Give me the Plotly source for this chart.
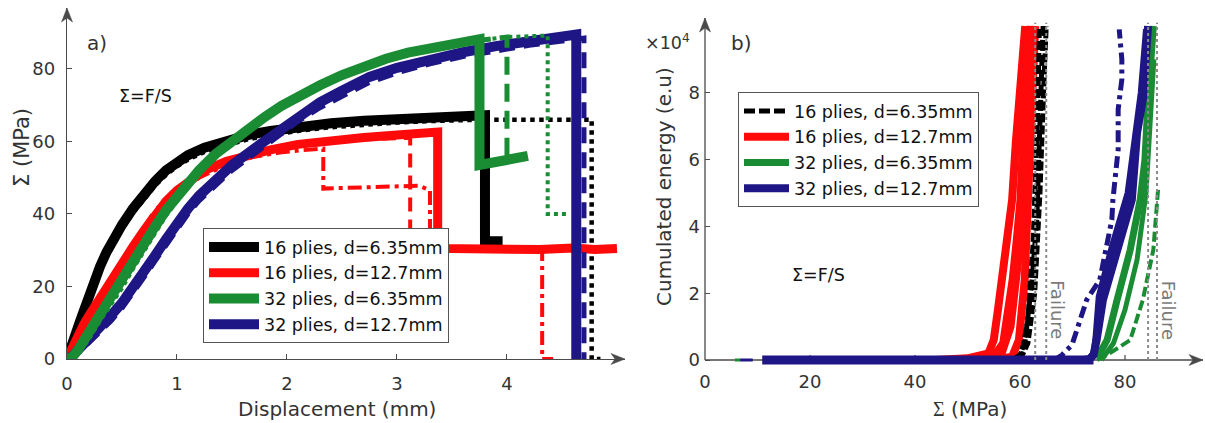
import plotly.graph_objects as go

# ---------------- panel a) : stress (MPa) vs displacement (mm) ----------------
A_BLK_SOLID_X = [0, 0.03, 0.07, 0.12, 0.18, 0.23, 0.3, 0.36, 0.43, 0.5, 0.6, 0.7, 0.8, 0.9, 1.0, 1.1, 1.25, 1.45, 1.65, 1.85, 2.1, 2.4, 2.7, 3.0, 3.3, 3.55, 3.8, 3.8, 3.96]
A_BLK_SOLID_Y = [0, 3, 6.5, 10.5, 15.5, 20, 25.5, 29.5, 33.5, 37, 41.5, 45.5, 49, 52, 54.3, 56.2, 58.3, 60.2, 61.8, 62.9, 64, 65, 65.7, 66.2, 66.6, 66.9, 67.2, 32.5, 32.5]
A_BLK_DOT_X = [0, 0.03, 0.07, 0.12, 0.18, 0.23, 0.3, 0.36, 0.43, 0.5, 0.6, 0.7, 0.8, 0.9, 1.0, 1.1, 1.25, 1.45, 1.65, 1.85, 2.1, 2.4, 2.7, 3.0, 3.3, 3.75, 4.3, 4.77, 4.77, 4.85]
A_BLK_DOT_Y = [0, 2.5, 6, 9.8, 14.5, 18.8, 24.3, 28.3, 32.3, 35.8, 40.3, 44.3, 47.8, 50.8, 53.1, 55, 57.1, 59, 60.6, 61.8, 62.9, 63.9, 64.7, 65.2, 65.6, 66, 66, 66, 0, 0]

A_RED_SOLID_X = [0, 0.05, 0.1, 0.15, 0.2, 0.3, 0.4, 0.5, 0.6, 0.7, 0.8, 0.9, 1.0, 1.1, 1.25, 1.45, 1.65, 1.85, 2.1, 2.4, 2.7, 3.0, 3.2, 3.37, 3.37, 3.7, 4.0, 4.3, 4.6, 4.8, 5.0]
A_RED_SOLID_Y = [0, 3.5, 6.5, 9.5, 12, 17, 22, 26.5, 31, 35.5, 40, 43.5, 46.5, 49, 52, 54.5, 56.3, 57.7, 59.2, 60.3, 61.1, 61.8, 62.2, 62.6, 30.5, 30.3, 30.7, 30.2, 30.6, 30.2, 30.5]
A_RED_DASHDOT_X = [0, 0.1, 0.2, 0.3, 0.45, 0.6, 0.8, 1.0, 1.2, 1.45, 1.7, 1.95, 2.15, 2.33, 2.33, 2.6, 2.9, 3.2, 3.3, 3.3, 4.32, 4.32, 4.42]
A_RED_DASHDOT_Y = [0, 6, 11.5, 16.5, 24, 31, 40, 45.5, 50, 53.5, 55.8, 57, 57.6, 58, 47, 47.2, 47.5, 47.8, 46.5, 30.5, 30.5, 0, 0]
A_RED_DASH_X = [0, 0.1, 0.2, 0.3, 0.45, 0.6, 0.8, 1.0, 1.2, 1.45, 1.7, 2.0, 2.3, 2.6, 2.9, 3.12, 3.12]
A_RED_DASH_Y = [0, 6.5, 12, 17.5, 25, 32, 41, 46.5, 50.8, 54.5, 57, 58.8, 59.9, 60.5, 60.9, 61, 30]

A_GRN_SOLID_X = [0, 0.05, 0.1, 0.15, 0.2, 0.3, 0.4, 0.5, 0.6, 0.7, 0.8, 0.9, 1.0, 1.1, 1.2, 1.35, 1.5, 1.65, 1.8, 1.95, 2.1, 2.3, 2.5, 2.7, 2.9, 3.1, 3.33, 3.55, 3.75, 3.75, 4.0, 4.19]
A_GRN_SOLID_Y = [0, 0.6, 2.5, 5, 7.5, 12.5, 17, 21.5, 26.5, 31.5, 36.5, 41, 45, 48.5, 52, 56.5, 60.2, 63.5, 66.8, 69.8, 72.5, 75.5, 78.3, 80.8, 82.8, 84.5, 86, 87.2, 88.2, 53.5, 55, 56]
A_GRN_DASH_X = [0, 0.05, 0.1, 0.15, 0.2, 0.3, 0.4, 0.5, 0.6, 0.7, 0.8, 0.9, 1.0, 1.1, 1.2, 1.35, 1.5, 1.65, 1.8, 1.95, 2.1, 2.3, 2.5, 2.7, 2.9, 3.1, 3.33, 3.55, 3.75, 4.0, 4.0]
A_GRN_DASH_Y = [0, 0.3, 1.8, 4, 6.5, 11.5, 16, 20.5, 25.5, 30.5, 35.5, 40, 44, 47.8, 51.5, 56, 59.8, 63.2, 66.5, 69.5, 72.2, 75.2, 78, 80.5, 82.6, 84.3, 85.9, 87.1, 88, 88.8, 56]
A_GRN_DOT_X = [0, 0.05, 0.1, 0.15, 0.2, 0.3, 0.4, 0.5, 0.6, 0.7, 0.8, 0.9, 1.0, 1.1, 1.2, 1.35, 1.5, 1.65, 1.8, 1.95, 2.1, 2.3, 2.5, 2.7, 2.9, 3.1, 3.33, 3.55, 3.75, 4.0, 4.37, 4.37, 4.55]
A_GRN_DOT_Y = [0, 0.2, 1.2, 3.2, 5.5, 10.5, 15, 19.5, 24.8, 29.8, 35, 39.5, 43.5, 47.4, 51.2, 55.6, 59.5, 63, 66.3, 69.3, 72, 75, 77.9, 80.4, 82.6, 84.4, 86, 87.2, 88, 88.8, 89.2, 40, 40]

A_NVY_SOLID_X = [0, 0.05, 0.1, 0.15, 0.2, 0.3, 0.4, 0.5, 0.6, 0.7, 0.8, 0.9, 1.0, 1.1, 1.2, 1.35, 1.5, 1.7, 1.9, 2.1, 2.3, 2.5, 2.75, 3.0, 3.3, 3.6, 3.9, 4.2, 4.45, 4.63, 4.63]
A_NVY_SOLID_Y = [0, 0.8, 2.5, 4, 5.5, 9, 12, 15.5, 19.5, 24, 28.5, 33, 37.5, 41.5, 45, 49.5, 53.5, 58, 62.5, 67, 70.8, 74, 77.8, 80.3, 82.7, 84.6, 86.3, 87.6, 88.6, 89.5, 0]
A_NVY_DASH_X = [0, 0.05, 0.1, 0.15, 0.2, 0.3, 0.4, 0.5, 0.6, 0.7, 0.8, 0.9, 1.0, 1.1, 1.2, 1.35, 1.5, 1.7, 1.9, 2.1, 2.3, 2.5, 2.75, 3.0, 3.3, 3.6, 3.9, 4.2, 4.45, 4.7, 4.7]
A_NVY_DASH_Y = [0, 0.5, 1.8, 3, 4.5, 7.5, 10.5, 14, 18, 22.5, 27, 31.5, 36, 40, 43.6, 48, 52, 56.5, 61, 65.5, 69.3, 72.5, 76.3, 78.9, 81.4, 83.4, 85.1, 86.5, 87.5, 88.5, 0]

A_XTICKS = [0, 1, 2, 3, 4]
A_YTICKS = [0, 20, 40, 60, 80]

# ---------------- panel b) : cumulated energy (x1e4 e.u) vs stress (MPa) ----------------
B_RED1_X = [44, 50, 54, 55, 55.8, 56.6, 57.6, 58.5, 59.2, 60.0, 61]
B_RED1_Y = [0, 0.05, 0.2, 0.6, 1.5, 2.4, 3.6, 4.8, 6.5, 8.2, 10.0]
B_RED2_X = [50, 55, 56.8, 57.8, 58.6, 59.4, 60.1, 60.7, 61.4, 62]
B_RED2_Y = [0, 0.1, 0.5, 1.5, 2.4, 3.6, 4.8, 7.0, 9.0, 10.0]
B_RED3_X = [55, 58.5, 59.8, 60.4, 60.9, 61.2, 61.5, 61.9, 62.4, 62.9]
B_RED3_Y = [0, 0.1, 0.6, 1.5, 2.4, 3.6, 4.8, 7.0, 8.8, 10.0]
B_RED4_X = [52, 56.5, 58.2, 59.0, 59.8, 60.5, 61.0, 61.6, 62.3]
B_RED4_Y = [0, 0.2, 1.0, 2.0, 3.2, 4.5, 6.5, 8.5, 10.0]

B_BLK1_X = [58.5, 60, 61, 62.3, 63.2, 63.8, 64.4]
B_BLK1_Y = [0, 0.15, 0.6, 2.4, 4.2, 7.8, 10.0]
B_BLK2_X = [59.5, 60.5, 61.5, 62.5, 63.3, 63.7]
B_BLK2_Y = [0, 0.3, 1.2, 3.5, 7.0, 10.0]
B_BLK3_X = [60, 61.5, 62.8, 63.8, 64.6, 65.0]
B_BLK3_Y = [0, 0.5, 2.0, 5.0, 8.5, 10.0]

B_GRN1_X = [74.7, 76.6, 78.5, 81, 82.9, 83.8, 84.4, 85.4]
B_GRN1_Y = [0.06, 0.6, 1.8, 3.3, 4.8, 6.0, 7.8, 10.0]
B_GRN2_X = [75.5, 77.8, 80, 82.3, 84, 84.8, 85.5]
B_GRN2_Y = [0, 0.5, 1.5, 3.0, 5.0, 7.0, 9.0]
B_GRND_X = [74.7, 76.6, 81, 83.4, 85.4, 86.1, 86.3]
B_GRND_Y = [0, 0.15, 0.6, 1.8, 3.3, 4.8, 5.1]

B_NVY1_X = [72, 73.2, 74, 74.6, 75.8, 78.5, 81.3, 82.3, 83.4, 84.4]
B_NVY1_Y = [0, 0.02, 0.15, 0.6, 1.8, 3.3, 4.8, 6.8, 7.8, 10.0]
B_NVY2_X = [70, 73, 74, 74.4, 75, 77.5, 80.5, 82, 83, 84]
B_NVY2_Y = [0, 0.02, 0.2, 0.7, 1.9, 3.4, 5.0, 7.0, 8.0, 9.9]
B_NVYD_X = [66.5, 68, 69.9, 72.7, 75.2, 77.5, 77.7, 78.7, 78.7, 79.4, 79.4, 78.9]
B_NVYD_Y = [0, 0.15, 0.45, 1.8, 2.4, 4.2, 4.8, 6.3, 7.5, 8.4, 9.0, 9.9]

B_BASE_NVY_X = [10.9, 74]
B_BASE_NVY_Y = [0, 0]
B_BASE_THIN_NVY_X = [6.7, 9.1]
B_BASE_THIN_NVY_Y = [0, 0]
B_BASE_GRN_X = [5.7, 6.7]
B_BASE_GRN_Y = [0, 0]

B_FAIL_X = [62.9, 65.0, 84.4, 86.1]
B_FAIL_LABEL_X = [67.0, 88.2]
B_FAIL_LABEL_Y = 1.5
B_XTICKS = [0, 20, 40, 60, 80]
B_YTICKS = [0, 2, 4, 6, 8]

LABELS = ["16 plies, d=6.35mm", "16 plies, d=12.7mm", "32 plies, d=6.35mm", "32 plies, d=12.7mm"]

# ---------------- style / layout constants ----------------
W, H = 1205, 423
BLACK, RED, GREEN, NAVY = "#000000", "#ff0a0a", "#1a8c33", "#1e1684"
AXC = "#4a4a4a"
TXT = "#333333"
FONT = "DejaVu Sans"

# pixel geometry of the two panels
A_X0, A_X1, A_Y0, A_Y1 = 67, 625, 359, 8
B_X0, B_X1, B_Y0, B_Y1 = 705, 1203, 360, 18
A_XR = [0, 5.073]
A_YR = [0, 96.8]
B_XR = [0, 94.86]
B_YMAX = 10.24
B_YMIN = -0.17
B_PXU = (B_Y0 - B_Y1) / B_YMAX  # px per unit
B_YBOT = B_Y0 - B_YMIN * B_PXU


def px(x):
    return x / W


def py(y):
    return 1 - y / H


fig = go.Figure()


def add(x, y, color, width, dash="solid", xa="x", ya="y", name=None, legend="legend", rank=None):
    fig.add_trace(go.Scatter(
        x=x, y=y, mode="lines", xaxis=xa, yaxis=ya,
        line=dict(color=color, width=width, dash=dash),
        name=name if name else "", showlegend=name is not None,
        legend=legend, legendrank=rank if rank else 1000, hoverinfo="skip"))


# panel a) traces (draw order: black, red, navy, green)
add(A_BLK_DOT_X, A_BLK_DOT_Y, BLACK, 4.5, "dot")
add(A_BLK_SOLID_X, A_BLK_SOLID_Y, BLACK, 10, name=LABELS[0], rank=1)
add(A_RED_DASHDOT_X, A_RED_DASHDOT_Y, RED, 4, "14px,5px,4px,5px")
add(A_RED_DASH_X, A_RED_DASH_Y, RED, 4, "14px,8px")
add(A_RED_SOLID_X, A_RED_SOLID_Y, RED, 9, name=LABELS[1], rank=2)
add(A_NVY_DASH_X, A_NVY_DASH_Y, NAVY, 5, "16px,9px")
add(A_NVY_SOLID_X, A_NVY_SOLID_Y, NAVY, 10, name=LABELS[3], rank=4)
add(A_GRN_DOT_X, A_GRN_DOT_Y, GREEN, 4, "dot")
add(A_GRN_DASH_X, A_GRN_DASH_Y, GREEN, 5, "18px,9px")
add(A_GRN_SOLID_X, A_GRN_SOLID_Y, GREEN, 10, name=LABELS[2], rank=3)

# panel b) traces
for xs, ys in [(B_RED1_X, B_RED1_Y), (B_RED2_X, B_RED2_Y), (B_RED4_X, B_RED4_Y)]:
    add(xs, ys, RED, 8, xa="x2", ya="y2")
add(B_RED3_X, B_RED3_Y, RED, 8, xa="x2", ya="y2", name=LABELS[1], legend="legend2", rank=2)
add(B_BLK2_X, B_BLK2_Y, BLACK, 5, "9px,3px", xa="x2", ya="y2")
add(B_BLK3_X, B_BLK3_Y, BLACK, 5, "9px,3px", xa="x2", ya="y2")
add(B_BLK1_X, B_BLK1_Y, BLACK, 5, "11px,4px", xa="x2", ya="y2", name=LABELS[0], legend="legend2", rank=1)
add(B_GRND_X, B_GRND_Y, GREEN, 4, "10px,4px", xa="x2", ya="y2")
add(B_GRN2_X, B_GRN2_Y, GREEN, 5, xa="x2", ya="y2")
add(B_GRN1_X, B_GRN1_Y, GREEN, 7, xa="x2", ya="y2", name=LABELS[2], legend="legend2", rank=3)
add(B_NVYD_X, B_NVYD_Y, NAVY, 5, "12px,5px,4px,5px", xa="x2", ya="y2")
add(B_NVY2_X, B_NVY2_Y, NAVY, 6, xa="x2", ya="y2")
add(B_BASE_GRN_X, B_BASE_GRN_Y, GREEN, 3, xa="x2", ya="y2")
add(B_BASE_THIN_NVY_X, B_BASE_THIN_NVY_Y, NAVY, 3, xa="x2", ya="y2")
add(B_BASE_NVY_X, B_BASE_NVY_Y, NAVY, 9, xa="x2", ya="y2")
add(B_NVY1_X, B_NVY1_Y, NAVY, 8, xa="x2", ya="y2", name=LABELS[3], legend="legend2", rank=4)

TICK_SIZE = 18
tickfont = dict(family=FONT, size=TICK_SIZE, color=TXT)
common = dict(showgrid=False, zeroline=False, ticks="inside", ticklen=5, tickwidth=1.2,
              tickcolor=AXC, tickfont=tickfont, automargin=False)

shapes = []
# gray dotted "failure" lines
for xv in B_FAIL_X:
    shapes.append(dict(type="line", xref="x2", yref="y2", x0=xv, x1=xv, y0=0, y1=10.1,
                       line=dict(color="#8a8a8a", width=2, dash="3px,3px"), layer="above"))
# panel b) axis lines and x ticks
shapes.append(dict(type="line", xref="paper", yref="paper", x0=px(B_X0), x1=px(B_X1),
                   y0=py(B_Y0), y1=py(B_Y0), line=dict(color=AXC, width=1.3), layer="below"))
shapes.append(dict(type="line", xref="paper", yref="paper", x0=px(B_X0), x1=px(B_X0),
                   y0=py(B_Y0), y1=py(B_Y1), line=dict(color=AXC, width=1.3), layer="below"))
for xv in B_XTICKS[1:]:
    shapes.append(dict(type="line", xref="x2", yref="y2", x0=xv, x1=xv, y0=0, y1=5 / B_PXU,
                       line=dict(color=AXC, width=1.2), layer="below"))


# arrow heads at the axis ends (filled, slightly notched triangles)
def head(tx, ty, direction):
    L, Wd, N = 14, 5.5, 4
    if direction == "right":
        pts = [(tx, ty), (tx - L, ty - Wd), (tx - L + N, ty), (tx - L, ty + Wd)]
    else:
        pts = [(tx, ty), (tx - Wd, ty + L), (tx, ty + L - N), (tx + Wd, ty + L)]
    path = "M " + " L ".join(f"{px(a):.5f},{py(b):.5f}" for a, b in pts) + " Z"
    shapes.append(dict(type="path", xref="paper", yref="paper", path=path,
                       fillcolor=AXC, line=dict(color=AXC, width=0.5), layer="above"))


head(A_X1, A_Y0, "right")
head(A_X0, A_Y1, "up")
head(B_X1, B_Y0, "right")
head(B_X0, B_Y1, "up")

annotations = []


def text(xp, yp, s, size=17, angle=0, color=TXT):
    annotations.append(dict(x=px(xp), y=py(yp), xref="paper", yref="paper", text=s,
                            showarrow=False, textangle=angle,
                            font=dict(family=FONT, size=size, color=color),
                            xanchor="center", yanchor="middle"))


text(97, 43, "a)", 20)
text(741, 43, "b)", 20)
text(145, 96, "Σ=F/S", 17.5, color="#111")
text(818, 275, "Σ=F/S", 17.5, color="#111")
text(667, 42, "×10<sup>4</sup>", 17.5)
text(337, 409, "Displacement (mm)", 20)
text(22, 148, "Σ (MPa)", 21, angle=-90)
text(664, 187, "Cumulated energy (e.u)", 20, angle=-90)
text(970, 409, "<span style='font-family:Liberation Serif'>Σ</span> (MPa)", 20)
for xv in B_FAIL_LABEL_X:
    annotations.append(dict(x=xv, y=B_FAIL_LABEL_Y, xref="x2", yref="y2", text="Failure",
                            showarrow=False, textangle=90,
                            font=dict(family=FONT, size=18, color="#7a7a7a")))

legfont = dict(family=FONT, size=17.5, color="#111")
fig.update_layout(
    template="none",
    width=W, height=H, margin=dict(l=0, r=0, t=0, b=0, pad=0, autoexpand=False),
    paper_bgcolor="white", plot_bgcolor="white",
    xaxis=dict(domain=[px(A_X0), px(A_X1)], range=A_XR, tickvals=A_XTICKS,
               showline=True, linecolor=AXC, linewidth=1.3, ticklabelstandoff=8,
               anchor="y", **common),
    yaxis=dict(domain=[py(A_Y0), py(A_Y1)], range=A_YR, tickvals=A_YTICKS,
               showline=True, linecolor=AXC, linewidth=1.3, ticklabelstandoff=7,
               anchor="x", **common),
    xaxis2=dict(domain=[px(B_X0), px(B_X1)], range=B_XR, tickvals=B_XTICKS,
                showline=False, ticks="", showgrid=False, zeroline=False, tickfont=tickfont,
                ticklabelstandoff=3, anchor="y2", automargin=False),
    yaxis2=dict(domain=[py(B_YBOT), py(B_Y1)], range=[B_YMIN, B_YMAX], tickvals=B_YTICKS,
                showline=False, ticklabelstandoff=4, anchor="x2", **common),
    legend=dict(x=px(203), y=py(228), xanchor="left", yanchor="top", font=legfont,
                bgcolor="white", bordercolor="#555", borderwidth=1, itemwidth=50,
                tracegroupgap=0),
    legend2=dict(x=px(738), y=py(92), xanchor="left", yanchor="top", font=legfont,
                 bgcolor="white", bordercolor="#555", borderwidth=1, itemwidth=45,
                 tracegroupgap=0),
    shapes=shapes, annotations=annotations,
)

fig.write_html("out.html")
